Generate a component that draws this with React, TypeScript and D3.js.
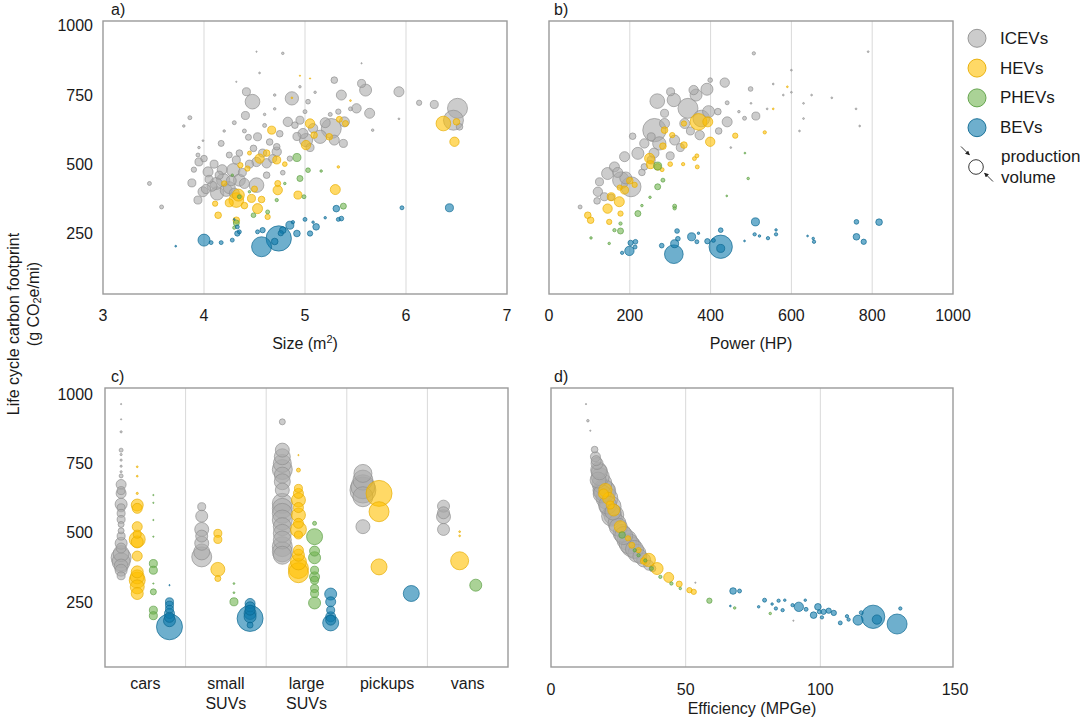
import * as d3 from 'd3'

// ---- data ----
// panel a: [size m2, g CO2e/mi, production volume (k)]
const sizeIcev: number[][] = [
  [3.46,430,10],[3.58,345,10],[3.80,638,4],[3.86,668,10],[3.99,585,2],[3.94,533,10],[3.95,508,41],[3.88,432,41],[3.94,370,41],[3.99,400,64],[4.04,472,64],[4.13,394,113],[4.17,575,23],[4.19,442,113],[4.29,478,113],[4.32,515,41],[4.25,533,23],[4.35,442,92],[4.42,762,41],[4.48,726,137],[4.41,676,41],[4.44,597,23],[4.53,599,41],[4.49,557,28],[4.52,508,56],[4.52,424,137],[4.62,503,56],[4.62,460,28],[4.72,545,56],[4.72,563,28],[4.78,901,4],[4.78,469,14],[4.83,653,56],[4.87,738,113],[4.90,641,28],[4.95,659,41],[4.98,611,64],[5.01,587,113],[5.03,726,14],[5.15,599,113],[5.26,629,255],[5.29,587,64],[5.36,750,64],[5.29,804,28],[5.39,653,64],[5.38,575,41],[5.51,702,56],[5.56,792,41],[5.60,768,92],[5.64,684,64],[5.67,623,4],[5.93,762,64],[6.13,722,18],[6.28,716,41],[6.51,702,255],[6.47,659,255],[6.53,635,28],[5.93,664,2],[5.56,865,1],[4.52,907,1],[4.32,798,1],
  [4.08,420,64],[4.15,460,41],[4.22,405,92],[4.27,440,64],[4.05,445,41],[4.38,470,41],[4.45,500,41],[4.58,540,41],[4.65,580,28],[4.68,520,41],[4.75,610,28],[4.92,600,41],[5.08,630,56],[5.20,650,64],[5.05,560,41],[4.30,650,10],[4.60,640,10],[4.70,700,4],[4.55,830,2],[3.90,480,18],[4.00,520,28],[4.10,500,41],[4.35,540,28],[4.40,620,10],[4.85,520,18],[4.70,750,4],[5.25,680,10],[5.45,700,10],[5.10,760,4],[4.95,780,4],[4.60,680,4],[4.20,620,4],[3.95,560,4],[5.00,690,10],[5.33,690,18],
  [4.12,430,92],[4.25,415,92],[4.40,430,64],[4.18,480,64],[4.02,410,56],[4.30,395,64],
]
const sizeHev: number[][] = [
  [4.32,370,137],[4.34,388,92],[4.14,315,28],[4.11,357,18],[4.47,376,41],[4.53,339,64],[4.57,372,28],[4.63,309,18],[4.73,406,56],[4.73,430,23],[4.93,388,41],[5.30,408,64],[4.32,297,28],[4.67,623,41],[4.55,520,56],[4.62,540,28],[4.72,515,41],[4.36,496,18],[4.43,484,18],[5.01,569,56],[5.05,647,56],[5.09,605,28],[5.24,599,28],[5.34,662,23],[5.40,647,23],[6.37,647,137],[6.50,653,28],[6.48,581,56],[5.33,490,4],[5.45,730,2],[4.87,740,2],[4.20,430,18],[4.25,360,41],[4.50,410,23],[4.40,350,28],[4.80,500,14],[4.45,540,10],[4.95,820,1],[5.05,810,1],
]
const sizePhev: number[][] = [
  [4.92,524,41],[4.95,448,23],[5.03,478,14],[4.99,382,10],[5.16,475,4],[5.38,348,23],[4.49,315,14],[4.63,327,10],[4.32,287,23],[4.35,382,10],[4.72,370,7],[4.80,430,4],[4.28,460,4],[4.45,400,4],[4.30,270,7],
]
const sizeBev: number[][] = [
  [4.00,225,92],[4.07,216,10],[4.17,216,10],[4.28,225,10],[4.33,249,18],[4.35,255,10],[4.33,273,10],[4.57,201,255],[4.74,231,409],[4.78,261,28],[4.85,279,41],[4.92,249,28],[5.05,249,18],[5.11,273,28],[4.53,255,10],[4.58,261,18],[5.00,300,10],[4.88,290,7],[5.08,290,4],[5.20,306,4],[5.31,339,28],[5.36,303,14],[5.33,300,10],[5.96,342,10],[6.43,342,41],[3.72,203,2],[4.30,300,2],[4.70,220,28],[4.76,250,18],
]

// panel b: [power HP, g CO2e/mi, volume]
const powerIcev: number[][] = [
  [77,345,10],[121,400,56],[119,367,28],[125,436,41],[145,466,92],[162,490,64],[178,442,177],[203,418,255],[187,527,64],[207,601,28],[220,539,92],[236,575,56],[261,623,347],[273,575,113],[286,684,41],[268,728,137],[309,732,113],[301,762,41],[286,647,64],[311,587,64],[336,647,64],[344,702,255],[364,750,92],[358,768,56],[391,771,92],[399,804,14],[435,795,56],[377,665,177],[373,605,56],[418,690,28],[441,653,64],[441,722,10],[499,772,14],[512,674,41],[484,666,10],[507,901,7],[555,790,2],[580,750,2],[630,720,2],[630,665,2],[769,638,2],[790,907,2],[253,515,41],[236,490,28],[137,382,41],[154,380,28],[253,599,41],[170,470,64],[190,450,92],[230,470,28],[260,540,64],[300,530,41],[325,560,41],[350,620,41],[395,690,92],[420,620,28],[470,690,4],[500,720,2],[540,700,2],[600,760,2],[650,750,2],[700,740,2],[760,700,2],[600,840,2],[450,560,2],[620,620,2],
]
const powerHev: number[][] = [
  [96,315,28],[103,297,28],[145,339,56],[149,291,18],[154,382,41],[177,321,18],[174,364,64],[187,406,41],[212,425,18],[175,415,18],[249,521,64],[251,498,41],[269,490,28],[282,565,28],[286,623,28],[305,605,18],[334,647,18],[334,569,28],[370,653,177],[393,653,64],[399,581,56],[461,603,18],[534,615,7],[366,530,10],[367,490,10],[332,500,7],[555,700,2],[590,780,2],[200,440,28],[300,500,14],[280,480,10],[360,520,10],
]
const powerPhev: number[][] = [
  [269,493,41],[269,418,23],[282,442,10],[311,348,10],[311,340,7],[220,321,23],[177,258,23],[177,285,7],[162,261,7],[149,213,4],[104,233,4],[250,380,4],[493,448,4],[485,540,2],[230,350,4],[440,385,2],
]
const powerBev: number[][] = [
  [181,179,7],[199,186,56],[202,215,18],[214,219,14],[213,200,10],[279,205,14],[309,174,222],[311,212,41],[317,258,14],[319,230,14],[353,237,41],[366,219,10],[370,250,4],[392,221,18],[407,224,10],[425,201,347],[425,261,14],[425,195,41],[511,291,41],[509,246,7],[521,240,4],[542,232,7],[562,246,7],[562,262,4],[654,231,4],[656,219,7],[761,291,14],[761,237,28],[779,219,18],[817,290,28],[484,222,2],[640,240,2],
]

// panel c: [class index, g CO2e/mi, volume]
const classes = ['cars', 'small\nSUVs', 'large\nSUVs', 'pickups', 'vans']
const classIcev: number[][] = [
  [0,964,1],[0,909,1],[0,864,3],[0,798,10],[0,782,3],[0,762,3],[0,740,3],[0,720,3],[0,705,10],[0,674,64],[0,652,41],[0,642,64],[0,603,92],[0,590,41],[0,570,41],[0,548,41],[0,530,23],[0,507,23],[0,488,41],[0,462,92],[0,445,64],[0,425,163],[0,410,255],[0,395,207],[0,380,125],[0,365,92],[0,345,41],
  [1,594,41],[1,560,92],[1,512,125],[1,488,92],[1,462,125],[1,431,163],[1,413,255],
  [2,900,23],[2,798,125],[2,774,163],[2,750,207],[2,728,255],[2,708,163],[2,684,163],[2,654,125],[2,606,255],[2,588,255],[2,570,255],[2,546,255],[2,522,207],[2,498,207],[2,474,207],[2,450,255],[2,431,255],[2,419,207],
  [3,714,207],[3,690,255],[3,666,367],[3,654,431],[3,630,255],[3,522,125],
  [4,596,92],[4,572,92],[4,558,125],[4,512,92],
]
const classHev: number[][] = [
  [0,738,2],[0,704,2],[0,642,3],[0,600,92],[0,588,64],[0,522,64],[0,495,41],[0,476,163],[0,467,92],[0,416,64],[0,359,92],[0,341,125],[0,329,163],[0,305,125],[0,281,92],
  [1,498,41],[1,476,41],[1,368,125],[1,335,23],
  [2,780,1],[2,726,10],[2,660,41],[2,642,64],[2,618,125],[2,591,64],[2,564,125],[2,534,64],[2,512,163],[2,492,41],[2,437,64],[2,419,92],[2,395,163],[2,371,255],[2,356,255],
  [3,642,431],[3,576,255],[3,377,163],
  [4,504,2],[4,489,2],[4,399,207],
]
const classPhev: number[][] = [
  [0,636,1],[0,608,1],[0,546,1],[0,486,1],[0,389,41],[0,365,41],[0,317,1],[0,287,23],[0,221,41],[0,201,41],
  [1,317,2],[1,284,2],[1,251,41],
  [2,534,10],[2,486,163],[2,434,64],[2,410,92],[2,365,41],[2,341,64],[2,329,41],[2,299,41],[2,281,41],[2,247,92],
  [4,311,92],
]
const classBev: number[][] = [
  [0,311,1],[0,251,41],[0,239,41],[0,224,41],[0,209,64],[0,195,64],[0,183,92],[0,161,431],
  [1,245,64],[1,233,64],[1,221,64],[1,209,92],[1,197,92],[1,191,431],[1,167,23],
  [2,279,92],[2,251,64],[2,221,41],[2,197,64],[2,185,64],[2,175,163],
  [3,281,163],
]

// panel d: [efficiency MPGe, g CO2e/mi, volume]
const effIcev: number[][] = [
  [13.0,964,1],[13.7,904,4],[14.6,868,1],[16.2,800,28],[16.5,774,64],[17.1,750,92],[17.7,726,163],[18.3,702,207],[18.9,678,255],[19.6,654,300],[20.8,624,300],[22.0,594,300],[23.3,564,255],[24.5,534,207],[26.4,498,207],[28.2,474,255],[29.8,450,255],[31.9,426,207],[34.4,402,125],[36.3,383,64],[37.7,371,28],[53.6,320,1],[90,183,1],
  [17.5,690,163],[19,640,207],[21,600,207],[23,575,163],[25,520,207],[27,490,207],[29,460,255],[31,440,207],[33,415,125],[16.8,760,64],[18,720,163],[20,650,300],[22.5,560,255],
]
const effHev: number[][] = [
  [20.2,654,113],[21.4,624,92],[23.3,582,92],[25.7,522,92],[28.6,480,18],[32.5,437,18],[36.3,402,113],[39.4,371,92],[43.7,339,64],[47.6,315,23],[51.4,293,18],[53.0,287,18],[34.4,398,28],[19.5,640,64],[22,600,41],[30,455,23],
]
const effPhev: number[][] = [
  [26.4,492,28],[31.1,437,7],[32.5,419,7],[35,400,7],[37.3,371,10],[40.6,341,7],[44.7,317,7],[48.0,299,4],[58.8,255,18],[68.2,229,4],[81.4,209,4],
]
const effBev: number[][] = [
  [67.6,290,28],[70.0,290,10],[66.6,236,2],[77.1,233,4],[79.3,257,10],[82.1,243,4],[83.5,227,7],[84.5,255,7],[86.0,221,7],[86.8,257,4],[89.7,239,7],[92.0,233,56],[94.4,257,4],[94.7,224,10],[97.5,203,28],[99.1,233,28],[99.6,215,10],[100.6,195,7],[101.2,215,18],[103.1,219,18],[105.0,211,18],[107.4,175,10],[109.9,199,7],[110.5,187,7],[114.0,185,64],[115.2,212,10],[119.6,197,347],[121.0,187,56],[128.5,171,255],[129.7,227,7],
]

const types = ['ICEVs', 'HEVs', 'PHEVs', 'BEVs']
const fills = ['#aaaaaa', '#ffbf00', '#71b450', '#0d7aac']
const strokes = ['#8f8f8f', '#e6ac00', '#5a9e42', '#0a6690']
const yTicks = [250, 500, 750, 1000]

const font = '"Liberation Sans", Arial, sans-serif'
const txt = '#1a1a1a'

const rScale = d3.scaleSqrt().domain([0, 500]).range([0, 14])

const yTop = d3.scaleLinear().domain([30, 1018]).range([294, 21])
const yBot = d3.scaleLinear().domain([16, 1022]).range([667, 388])
const xA = d3.scaleLinear().domain([3, 7]).range([103, 507])
const xB = d3.scaleLinear().domain([0, 1000]).range([549, 953])
const xC = d3.scaleBand<number>().domain(d3.range(classes.length)).range([105, 508])
const xD = d3.scaleLinear().domain([0, 150]).range([551, 955])
const subPos = [0.2, 0.4, 0.6, 0.8]

function Dots({ sets, x, y }: { sets: number[][][], x: (d: number[], t: number) => number, y: (v: number) => number }) {
  return (
    <g>
      {sets.map((set, t) => (
        <g key={t}>
          {[...set].sort((a, b) => b[2] - a[2]).map((d, i) => (
            <circle key={i} cx={x(d, t)} cy={y(d[1])} r={rScale(d[2])}
              fill={fills[t]} fillOpacity={0.6} stroke={strokes[t]} strokeOpacity={0.85} strokeWidth={0.8} />
          ))}
        </g>
      ))}
    </g>
  )
}

function Frame({ x0, x1, y0, y1 }: { x0: number, x1: number, y0: number, y1: number }) {
  return <rect x={x0} y={y0} width={x1 - x0} height={y1 - y0} fill="none" stroke="#9a9a9a" strokeWidth={1.4} />
}

function VGrid({ xs, y0, y1 }: { xs: number[], y0: number, y1: number }) {
  return <g>{xs.map((v, i) => <line key={i} x1={v} x2={v} y1={y0} y2={y1} stroke="#d9d9d9" strokeWidth={1} />)}</g>
}

function YLabels({ y }: { y: d3.ScaleLinear<number, number> }) {
  return (
    <g>
      {yTicks.map(t => (
        <text key={t} x={93} y={y(t)} textAnchor="end" dominantBaseline="central" fontSize={16} fill={txt}>{t}</text>
      ))}
    </g>
  )
}

export default function App() {
  const aTicks = xA.ticks(4)
  const bTicks = xB.ticks(5)
  const dTicks = [0, 50, 100, 150]
  const bw = xC.bandwidth()

  return (
    <div style={{ position: 'absolute', left: 0, top: 0 }}>
      <svg width={1080} height={720} style={{ display: 'block', background: '#fff', fontFamily: font }}>
        <defs>
          <marker id="arr" viewBox="0 0 10 10" refX="9" refY="5" markerWidth="5" markerHeight="5" orient="auto">
            <path d="M0,0 L10,5 L0,10 z" fill="#222" />
          </marker>
        </defs>

        {/* panel a */}
        <VGrid xs={aTicks.slice(1, -1).map(xA)} y0={21} y1={294} />
        <Dots sets={[sizeIcev, sizeHev, sizePhev, sizeBev]} x={d => xA(d[0])} y={yTop} />
        <Frame x0={103} x1={507} y0={21} y1={294} />
        <YLabels y={yTop} />
        {aTicks.map(t => <text key={t} x={xA(t)} y={321} textAnchor="middle" fontSize={16} fill={txt}>{t}</text>)}
        <text x={305} y={349} textAnchor="middle" fontSize={16} fill={txt}>
          <tspan>Size (m</tspan><tspan dy={-6} fontSize={11}>2</tspan><tspan dy={6}>)</tspan>
        </text>
        <text x={111} y={15} fontSize={16} fill={txt}>a)</text>

        {/* panel b */}
        <VGrid xs={bTicks.slice(1, -1).map(xB)} y0={21} y1={294} />
        <Dots sets={[powerIcev, powerHev, powerPhev, powerBev]} x={d => xB(d[0])} y={yTop} />
        <Frame x0={549} x1={953} y0={21} y1={294} />
        {bTicks.map(t => <text key={t} x={xB(t)} y={321} textAnchor="middle" fontSize={16} fill={txt}>{t}</text>)}
        <text x={751} y={349} textAnchor="middle" fontSize={16} fill={txt}>Power (HP)</text>
        <text x={554} y={15} fontSize={16} fill={txt}>b)</text>

        {/* panel c */}
        <VGrid xs={d3.range(1, classes.length).map(i => xC(i) as number)} y0={388} y1={667} />
        <Dots sets={[classIcev, classHev, classPhev, classBev]} x={(d, t) => (xC(d[0]) as number) + bw * subPos[t]} y={yBot} />
        <Frame x0={105} x1={508} y0={388} y1={667} />
        <YLabels y={yBot} />
        {classes.map((c, i) => (
          <text key={c} x={(xC(i) as number) + bw / 2} y={689} textAnchor="middle" fontSize={16} fill={txt}>
            {c.split('\n').map((s, j) => <tspan key={j} x={(xC(i) as number) + bw / 2} dy={j === 0 ? 0 : 20}>{s}</tspan>)}
          </text>
        ))}
        <text x={111} y={382} fontSize={16} fill={txt}>c)</text>

        {/* panel d */}
        <VGrid xs={dTicks.slice(1, -1).map(xD)} y0={388} y1={667} />
        <Dots sets={[effIcev, effHev, effPhev, effBev]} x={d => xD(d[0])} y={yBot} />
        <Frame x0={551} x1={953} y0={388} y1={667} />
        {dTicks.map(t => <text key={t} x={xD(t)} y={695} textAnchor="middle" fontSize={16} fill={txt}>{t}</text>)}
        <text x={752} y={714} textAnchor="middle" fontSize={16} fill={txt}>Efficiency (MPGe)</text>
        <text x={554} y={382} fontSize={16} fill={txt}>d)</text>

        {/* y title */}
        <text transform="translate(13,324) rotate(-90)" textAnchor="middle" dominantBaseline="central" fontSize={16} fill={txt}>Life cycle carbon footprint</text>
        <text transform="translate(33,304) rotate(-90)" textAnchor="middle" dominantBaseline="central" fontSize={16} fill={txt}>
          <tspan>(g CO</tspan><tspan dy={4} fontSize={11}>2</tspan><tspan dy={-4}>e/mi)</tspan>
        </text>

        {/* legend */}
        {types.map((t, i) => (
          <g key={t}>
            <circle cx={977} cy={38.3 + i * 29.8} r={9} fill={fills[i]} fillOpacity={0.6} stroke={strokes[i]} strokeWidth={0.9} />
            <text x={1000} y={38.3 + i * 29.8} dominantBaseline="central" fontSize={17} fill={txt}>{t}</text>
          </g>
        ))}
        <circle cx={976} cy={167} r={7.3} fill="#fff" stroke="#222" strokeWidth={0.9} />
        <line x1={961} y1={146.5} x2={969.5} y2={155} stroke="#222" strokeWidth={0.9} markerEnd="url(#arr)" />
        <line x1={993} y1={181.5} x2={984.5} y2={173} stroke="#222" strokeWidth={0.9} markerEnd="url(#arr)" />
        <text x={1001} y={156} dominantBaseline="central" fontSize={17} fill={txt}>production</text>
        <text x={1001} y={177.5} dominantBaseline="central" fontSize={17} fill={txt}>volume</text>
      </svg>
    </div>
  )
}
